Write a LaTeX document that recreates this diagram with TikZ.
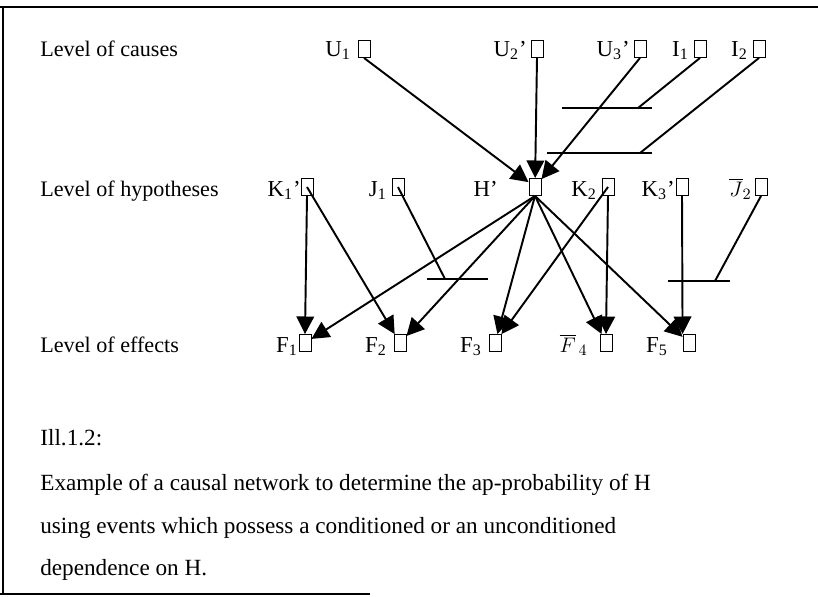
\documentclass[tikz,border=0pt]{standalone}
\usepackage{fontspec}
\setmainfont{Liberation Serif}
\usetikzlibrary{arrows.meta,positioning}

\begin{document}
\begin{tikzpicture}[x=0.02cm, y=-0.02cm,
    ev/.style={draw, line width=0.5pt, minimum width=0.24cm, minimum height=0.34cm, inner sep=0pt},
    lab/.style={anchor=base east, inner sep=0pt, font=\fontsize{13}{15}\selectfont},
    txt/.style={anchor=base west, inner sep=0pt, font=\fontsize{12.6}{15}\selectfont},
    captxt/.style={anchor=base west, inner sep=0pt, font=\fontsize{13.2}{15}\selectfont},
    arr/.style={-{Triangle[length=10pt, width=10pt]}, line width=1.1pt},
    cond/.style={line width=1.1pt},
    bar/.style={line width=0.8pt}
]
\useasboundingbox (0,0) rectangle (818,596);
% frame
\draw[line width=1.2pt] (0,7) -- (818,7);
\draw[line width=0.8pt] (3,7) -- (3,594);
\draw[line width=1pt] (0,594) -- (370,594);

% levels
\node[txt] (lc) at (40,56) {Level of causes};
\node[txt] (lh) at (40,196) {Level of hypotheses};
\node[txt] (le) at (40,352) {Level of effects};

% causes
\node[ev] (u1) at (364,49) {};
\node[ev] (u2) at (537,49) {};
\node[ev] (u3) at (640,49) {};
\node[ev] (i1) at (700,49) {};
\node[ev] (i2) at (759,49) {};
\node[lab] (u1t) at (351,56) {U\textsubscript{1}};
\node[lab] (u2t) at (527,56) {U\textsubscript{2}'};
\node[lab] (u3t) at (630,56) {U\textsubscript{3}'};
\node[lab] (i1t) at (689,56) {I\textsubscript{1}};
\node[lab] (i2t) at (748,56) {I\textsubscript{2}};

% hypotheses
\node[ev] (k1) at (307,187) {};
\node[ev] (j1) at (398,187) {};
\node[ev] (hp) at (535,187) {};
\node[ev] (k2) at (608,187) {};
\node[ev] (k3) at (682,187) {};
\node[ev] (j2) at (761,187) {};
\node[lab] (k1t) at (301,196) {K\textsubscript{1}'};
\node[lab] (j1t) at (387,196) {J\textsubscript{1}};
\node[lab] (hpt) at (498,196) {H'};
\node[lab] (k2t) at (597,196) {K\textsubscript{2}};
\node[lab] (k3t) at (675,196) {K\textsubscript{3}'};
\node[lab] (j2t) at (752,196) {$\overline{J}_{2}$};

% effects
\node[ev] (f1) at (305,343) {};
\node[ev] (f2) at (400,343) {};
\node[ev] (f3) at (495,343) {};
\node[ev] (f4) at (606,343) {};
\node[ev] (f5) at (689,343) {};
\node[lab] (f1t) at (298,352) {F\textsubscript{1}};
\node[lab] (f2t) at (387,352) {F\textsubscript{2}};
\node[lab] (f3t) at (482,352) {F\textsubscript{3}};
\node[lab] (f4t) at (588,352) {$\overline{F}_{\,4}$};
\node[lab] (f5t) at (668,352) {F\textsubscript{5}};

% condition bars
\coordinate (b1a) at (562,108); \coordinate (b1b) at (652,108); \coordinate (i1e) at (638,108);
\coordinate (b2a) at (547,153); \coordinate (b2b) at (652,153); \coordinate (i2e) at (640,153);
\coordinate (b3a) at (427,279); \coordinate (b3b) at (488,279); \coordinate (j1e) at (445,279);
\coordinate (b4a) at (668,281); \coordinate (b4b) at (730,281); \coordinate (j2e) at (715,281);
\draw[bar] (b1a) -- (b1b);
\draw[bar] (b2a) -- (b2b);
\draw[bar] (b3a) -- (b3b);
\draw[bar] (b4a) -- (b4b);
\draw[cond] (i1.south) -- (i1e);
\draw[cond] (i2.south) -- (i2e);
\draw[cond] (j1.center) -- (j1e);
\draw[cond] (j2.south) -- (j2e);

% causes -> H'
\draw[arr] (u1.south) -- (hp);
\draw[arr] (u2.south) -- (hp);
\draw[arr] (u3.south) -- (hp);

% hypotheses -> effects
\draw[arr] (k1.south) -- (f1.north);
\draw[arr] (k1.center) -- (f2);
\draw[arr] (hp.south) -- (f1);
\draw[arr] (hp.south) -- (f2);
\draw[arr] (hp.south) -- (f3);
\draw[arr] (hp.south) -- (f4);
\draw[arr] (hp.south) -- (f5);
\draw[arr] (k2.center) -- (f3);
\draw[arr] (k2.south) -- (f4.north);
\draw[arr] (k3.south) -- (f5.north west);

% caption
\node[captxt] (ill) at (40,445) {Ill.1.2:};
\node[captxt] (cap1) at (40,490) {Example of a causal network to determine the ap-probability of H};
\node[captxt] (cap2) at (40,533) {using events which possess a conditioned or an unconditioned};
\node[captxt] (cap3) at (40,575) {dependence on H.};
\end{tikzpicture}
\end{document}
